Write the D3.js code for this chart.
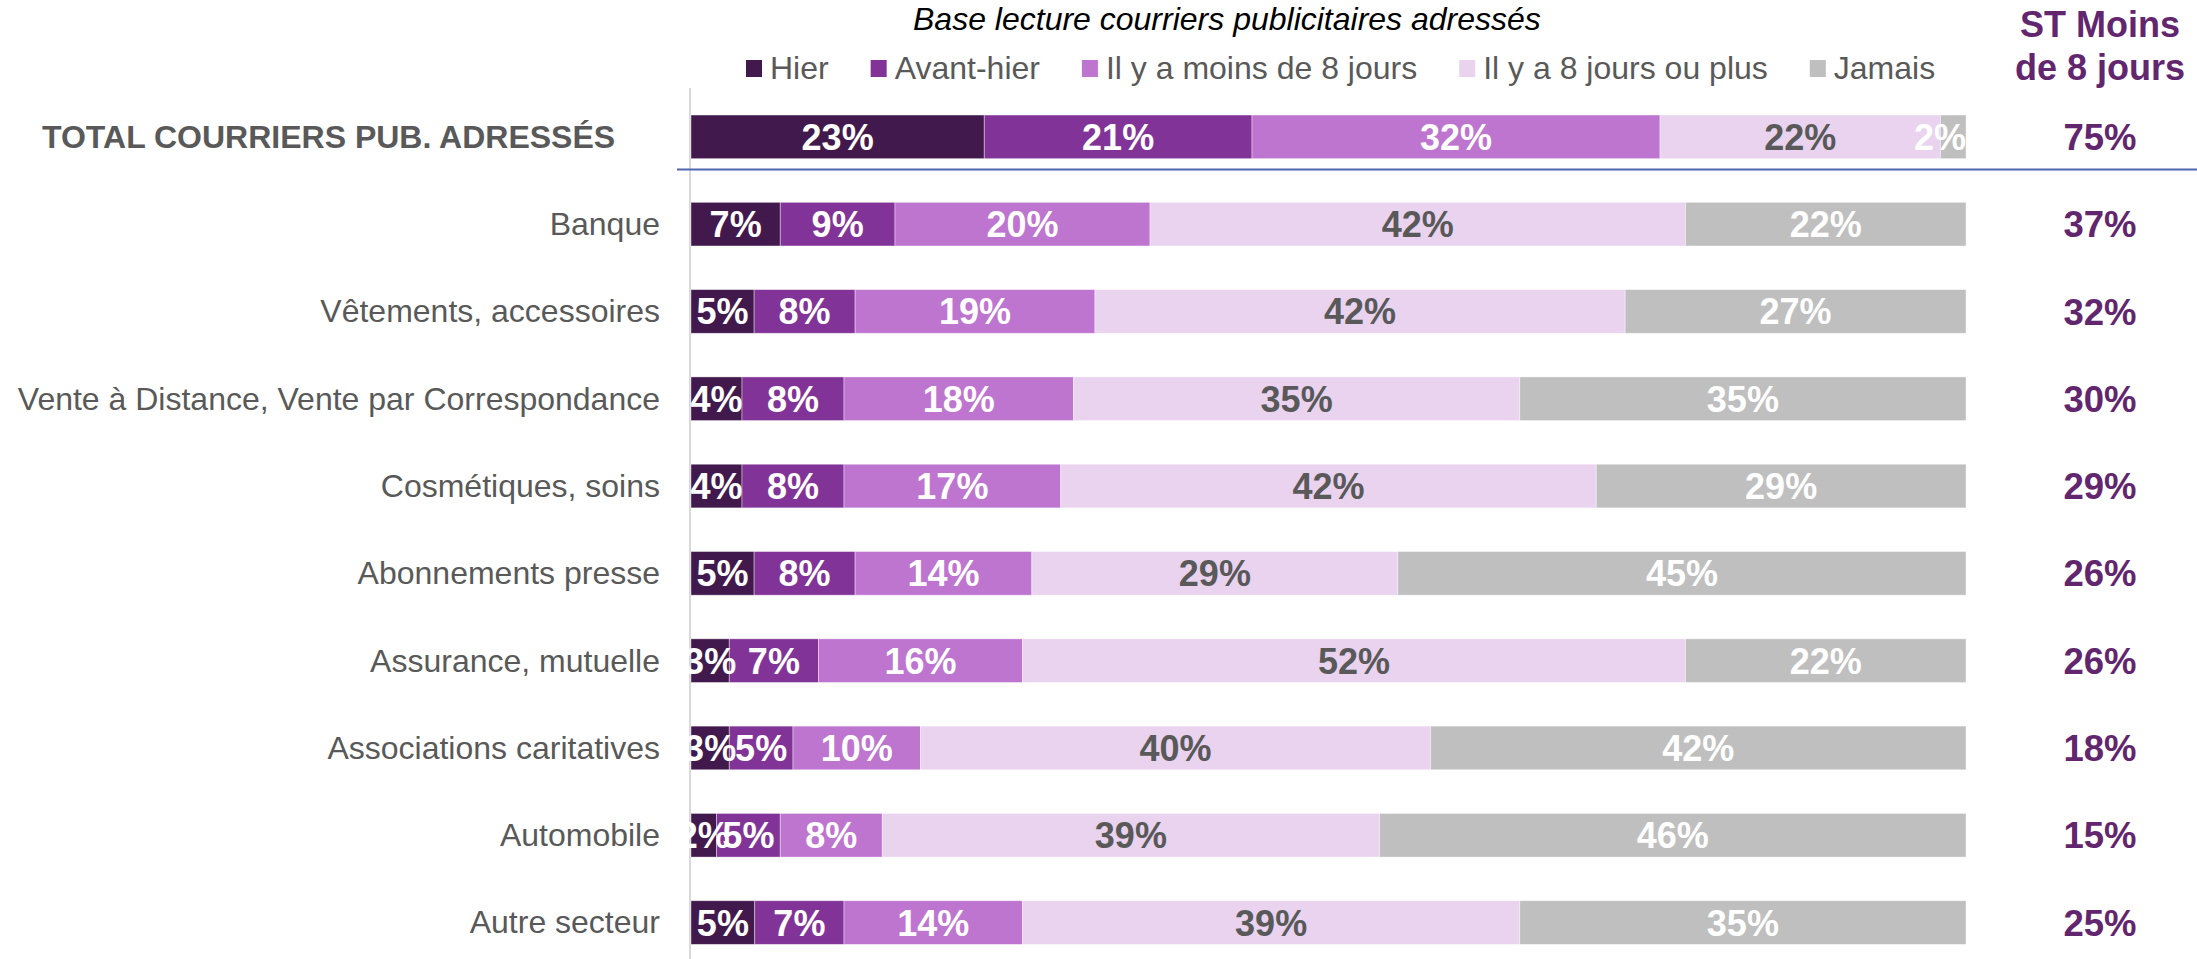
<!DOCTYPE html>
<html lang="fr">
<head>
<meta charset="utf-8">
<title>Lecture des courriers publicitaires adressés</title>
<script src="https://cdn.jsdelivr.net/npm/d3@7/dist/d3.min.js"></script>
<style>
  html, body { margin: 0; padding: 0; background: #fff; }
  svg { display: block; font-family: "Liberation Sans", Arial, sans-serif; }
</style>
</head>
<body>
<svg id="chart" width="2197" height="959"></svg>
<script>
// Secteurs (la première ligne est le total)
const categories = [
  "TOTAL COURRIERS PUB. ADRESSÉS",
  "Banque",
  "Vêtements, accessoires",
  "Vente à Distance, Vente par Correspondance",
  "Cosmétiques, soins",
  "Abonnements presse",
  "Assurance, mutuelle",
  "Associations caritatives",
  "Automobile",
  "Autre secteur"
];

// Dernière lecture, en %
const seriesNames = ["Hier", "Avant-hier", "Il y a moins de 8 jours", "Il y a 8 jours ou plus", "Jamais"];
const hier      = [23, 7, 5, 4, 4, 5, 3, 3, 2, 5];
const avantHier = [21, 9, 8, 8, 8, 8, 7, 5, 5, 7];
const moins8    = [32, 20, 19, 18, 17, 14, 16, 10, 8, 14];
const plus8     = [22, 42, 42, 35, 42, 29, 52, 40, 39, 39];
const jamais    = [2, 22, 27, 35, 29, 45, 22, 42, 46, 35];

// Sous-total « moins de 8 jours »
const stMoins8  = [75, 37, 32, 30, 29, 26, 26, 18, 15, 25];

const colors      = ["#41194c", "#823398", "#bd75d0", "#e9d3ef", "#bfbfbf"];
const labelColors = ["#ffffff", "#ffffff", "#ffffff", "#595959", "#ffffff"];

const title = "Base lecture courriers publicitaires adressés";
const stHeader = ["ST Moins", "de 8 jours"];

const seriesValues = [hier, avantHier, moins8, plus8, jamais];
const rows = categories.map((c, i) => {
  const r = { cat: c };
  seriesNames.forEach((s, k) => { r[s] = seriesValues[k][i]; });
  return r;
});

const svg = d3.select("#chart");
const textGrey = "#595959";
const stColor = "#62266f";

// 100 % stacked bars
const stack = d3.stack().keys(seriesNames).offset(d3.stackOffsetExpand);
const layers = stack(rows);

const x = d3.scaleLinear().domain([0, 1]).range([691, 1966]);
const y = d3.scaleBand().domain(categories).range([93.2, 966.2])
  .paddingInner(0.5).paddingOuter(0.25);

// Vertical baseline
svg.append("line")
  .attr("x1", 690).attr("x2", 690)
  .attr("y1", 88).attr("y2", 959)
  .attr("stroke", "#d9d9d9").attr("stroke-width", 2);

// Separator below the total row
const sepY = y(categories[0]) + y.bandwidth() + (y.step() - y.bandwidth()) * 0.25;
svg.append("line")
  .attr("x1", 677).attr("x2", 2197)
  .attr("y1", sepY).attr("y2", sepY)
  .attr("stroke", "#4f66b0").attr("stroke-width", 2);

// Segments
const gLayers = svg.append("g").selectAll("g")
  .data(layers).join("g")
  .attr("fill", (d, i) => colors[i]);

gLayers.selectAll("rect")
  .data(d => d)
  .join("rect")
  .attr("x", d => x(d[0]))
  .attr("y", d => y(d.data.cat))
  .attr("width", d => x(d[1]) - x(d[0]))
  .attr("height", y.bandwidth())
  .attr("stroke", "#ffffff").attr("stroke-opacity", 0.5).attr("stroke-width", 0.8);

// Value labels, centred in each segment and kept inside the plot on the right
const valueSize = 36;
const gLabels = svg.append("g")
  .attr("font-size", valueSize).attr("font-weight", "bold")
  .attr("text-anchor", "middle");

layers.forEach((layer, k) => {
  layer.forEach(seg => {
    const txt = seg.data[layer.key] + "%";
    const t = gLabels.append("text")
      .attr("fill", labelColors[k])
      .attr("y", y(seg.data.cat) + y.bandwidth() / 2)
      .attr("dy", "0.36em")
      .text(txt);
    const w = t.node().getComputedTextLength();
    const cx = Math.min((x(seg[0]) + x(seg[1])) / 2, x(1) - w / 2);
    t.attr("x", cx);
  });
});

// Category labels
svg.append("g").selectAll("text")
  .data(categories)
  .join("text")
  .attr("x", (d, i) => i === 0 ? 42 : 660)
  .attr("y", d => y(d) + y.bandwidth() / 2)
  .attr("dy", "0.34em")
  .attr("text-anchor", (d, i) => i === 0 ? "start" : "end")
  .attr("font-size", 32)
  .attr("font-weight", (d, i) => i === 0 ? "bold" : "normal")
  .attr("fill", textGrey)
  .text(d => d);

// Subtotal column
const stX = 2100;
svg.append("g").selectAll("text")
  .data(stHeader)
  .join("text")
  .attr("x", stX)
  .attr("y", (d, i) => 37 + i * 43)
  .attr("text-anchor", "middle")
  .attr("font-size", 36).attr("font-weight", "bold")
  .attr("fill", stColor)
  .text(d => d);

svg.append("g").selectAll("text")
  .data(stMoins8)
  .join("text")
  .attr("x", stX)
  .attr("y", (d, i) => y(categories[i]) + y.bandwidth() / 2)
  .attr("dy", "0.36em")
  .attr("text-anchor", "middle")
  .attr("font-size", 36.5).attr("font-weight", "bold")
  .attr("fill", stColor)
  .text(d => d + "%");

// Title
svg.append("text")
  .attr("x", 913).attr("y", 30)
  .attr("font-size", 32).attr("font-style", "italic")
  .attr("fill", "#000")
  .text(title);

// Legend
const legend = svg.append("g");
let lx = 746;
seriesNames.forEach((name, i) => {
  legend.append("rect")
    .attr("x", lx).attr("y", 60)
    .attr("width", 16).attr("height", 17)
    .attr("fill", colors[i]);
  const t = legend.append("text")
    .attr("x", lx + 24).attr("y", 79)
    .attr("font-size", 32).attr("fill", textGrey)
    .text(name);
  lx += 24 + t.node().getComputedTextLength() + 42;
});
</script>
</body>
</html>
